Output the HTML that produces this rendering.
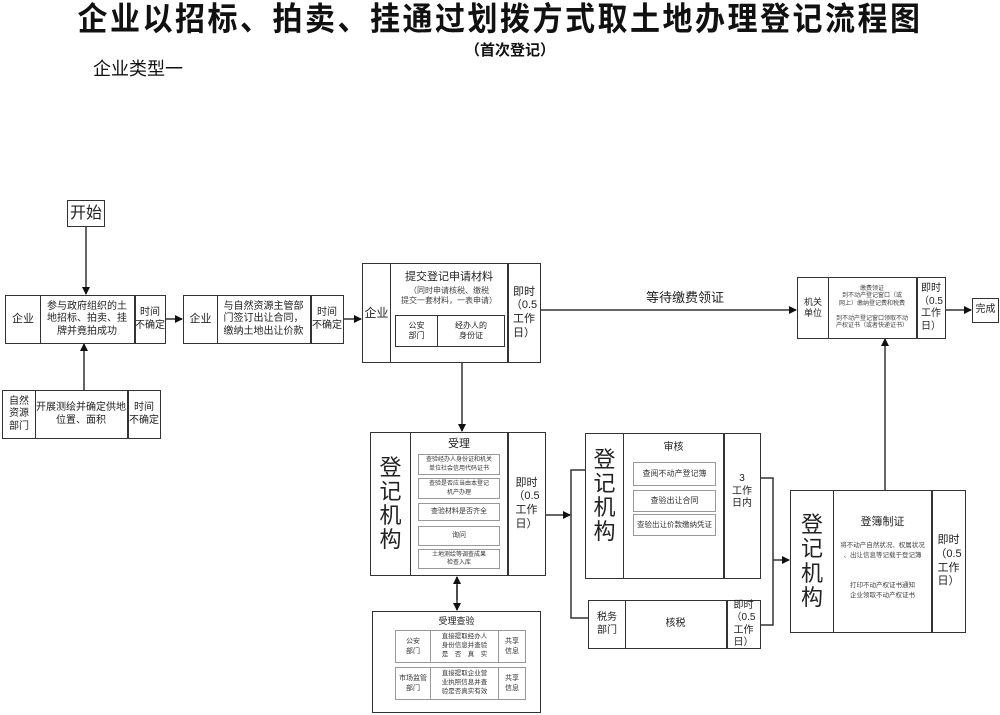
<!DOCTYPE html>
<html><head><meta charset="utf-8">
<style>
*{margin:0;padding:0;box-sizing:border-box}
body{width:1000px;height:715px;background:#fff;position:relative;overflow:hidden;font-family:"Liberation Sans","Noto Sans CJK SC",sans-serif;color:#222}
.b{position:absolute;border:1.5px solid #333;display:flex;align-items:center;justify-content:center;text-align:center;line-height:1.25;white-space:nowrap}
.t{position:absolute;text-align:center;line-height:1.25;white-space:nowrap}
.s{position:absolute;border:1px solid #999;display:flex;align-items:center;justify-content:center;text-align:center;font-size:7px;line-height:1.35;color:#333;white-space:nowrap}
svg{position:absolute;left:0;top:0}
</style></head><body>
<div class="t" style="left:0;width:1000px;top:0px;font-size:30px;font-weight:bold;letter-spacing:2.5px;transform:scaleY(1.08);transform-origin:top;color:#111">企业以招标、拍卖、挂通过划拨方式取土地办理登记流程图</div>
<div class="t" style="left:440px;width:140px;top:42px;font-size:15px;font-weight:bold;color:#111">（首次登记）</div>
<div class="t" style="left:93px;top:58px;font-size:18px;color:#111">企业类型一</div>

<svg width="1000" height="715">
<defs><marker id="a" markerWidth="8" markerHeight="8" refX="7" refY="4" orient="auto" markerUnits="userSpaceOnUse"><path d="M0,0 L8,4 L0,8z" fill="#111"/></marker></defs>
<g stroke="#333" stroke-width="1.5" fill="none">
<line x1="86" y1="226" x2="86" y2="294" marker-end="url(#a)"/>
<line x1="84" y1="390" x2="84" y2="344" marker-end="url(#a)"/>
<line x1="165" y1="319" x2="182" y2="319" marker-end="url(#a)"/>
<line x1="343" y1="319" x2="361" y2="319" marker-end="url(#a)"/>
<line x1="540" y1="310" x2="796" y2="310" marker-end="url(#a)"/>
<line x1="945" y1="310" x2="971" y2="310" marker-end="url(#a)"/>
<line x1="462" y1="362" x2="462" y2="431" marker-end="url(#a)"/>
<line x1="457" y1="585" x2="457" y2="610" marker-end="url(#a)"/>
<line x1="457" y1="600" x2="457" y2="577" marker-end="url(#a)"/>
<line x1="545" y1="515" x2="570" y2="515" marker-end="url(#a)"/>
<polyline points="585,470 571,470 571,618 588,618"/>
<polyline points="760,478 773,478 773,625 760,625"/>
<line x1="773" y1="560" x2="789" y2="560" marker-end="url(#a)"/>
<line x1="885" y1="490" x2="885" y2="339" marker-end="url(#a)"/>
</g>
</svg>

<div class="b" style="left:67px;top:200px;width:38px;height:27px;font-size:16px">开始</div>

<div class="b" style="left:5px;top:295px;width:36px;height:49px;font-size:11px">企业</div>
<div class="b" style="left:39px;top:295px;width:97px;height:49px;font-size:10px;border-left:none">参与政府组织的土<br>地招标、拍卖、挂<br>牌并竟拍成功</div>
<div class="b" style="left:134px;top:295px;width:32px;height:49px;font-size:10px">时间<br>不确定</div>

<div class="b" style="left:183px;top:295px;width:35px;height:49px;font-size:11px">企业</div>
<div class="b" style="left:216px;top:295px;width:96px;height:49px;font-size:10px;border-left:none">与自然资源主管部<br>门签订出让合同，<br>缴纳土地出让价款</div>
<div class="b" style="left:310px;top:295px;width:34px;height:49px;font-size:10px">时间<br>不确定</div>

<div class="b" style="left:2px;top:390px;width:34px;height:49px;font-size:10px">自然<br>资源<br>部门</div>
<div class="b" style="left:34px;top:390px;width:95px;height:49px;font-size:10px;border-left:none">开展测绘并确定供地<br>位置、面积</div>
<div class="b" style="left:127px;top:390px;width:34px;height:49px;font-size:10px">时间<br>不确定</div>

<div class="b" style="left:362px;top:263px;width:29px;height:100px;font-size:12px">企业</div>
<div class="b" style="left:389px;top:263px;width:120px;height:100px;border-left:none"></div>
<div class="t" style="left:390px;top:271px;width:118px;font-size:11px">提交登记申请材料</div>
<div class="t" style="left:390px;top:286px;width:118px;font-size:8px;color:#444">（同时申请核税、缴税<br>提交一套材料，一表申请）</div>
<div class="b" style="left:395px;top:315px;width:43px;height:32px;font-size:8px;border-width:1px">公安<br>部门</div>
<div class="b" style="left:437px;top:315px;width:68px;height:32px;font-size:8px;border-width:1px">经办人的<br>身份证</div>
<div class="b" style="left:507px;top:263px;width:34px;height:100px;font-size:11px">即时<br>（0.5<br>工作<br>日）</div>
<div class="t" style="left:630px;top:290px;width:110px;font-size:13px">等待缴费领证</div>

<div class="b" style="left:797px;top:277px;width:32px;height:62px;font-size:9px">机关<br>单位</div>
<div class="b" style="left:827px;top:277px;width:91px;height:62px;font-size:6px;border-left:none;color:#444">缴费领证<br>到不动产登记窗口（或<br>网上）缴纳登记费和税费<br><br>到不动产登记窗口领取不动<br>产权证书（或者快递证书）</div>
<div class="b" style="left:916px;top:277px;width:30px;height:62px;font-size:10px">即时<br>（0.5<br>工作<br>日）</div>
<div class="b" style="left:972px;top:298px;width:27px;height:25px;font-size:10px">完成</div>

<div class="b" style="left:370px;top:432px;width:41px;height:144px;font-size:22px;line-height:1.1">登<br>记<br>机<br>构</div>
<div class="b" style="left:409px;top:432px;width:100px;height:144px;border-left:none"></div>
<div class="t" style="left:410px;top:438px;width:98px;font-size:11px">受理</div>
<div class="s" style="left:418px;top:454px;width:82px;height:21px;font-size:6px">查验经办人身份证和机关<br>单位社会信用代码证书</div>
<div class="s" style="left:418px;top:478px;width:82px;height:21px;font-size:6px">查验是否应当由本登记<br>机产办理</div>
<div class="s" style="left:418px;top:503px;width:82px;height:18px">查验材料是否齐全</div>
<div class="s" style="left:418px;top:526px;width:82px;height:20px">询问</div>
<div class="s" style="left:418px;top:549px;width:82px;height:20px;font-size:6px">土地测绘等调查成果<br>检查入库</div>
<div class="b" style="left:507px;top:432px;width:39px;height:144px;font-size:11px">即时<br>（0.5<br>工作<br>日）</div>

<div class="b" style="left:372px;top:611px;width:169px;height:102px"></div>
<div class="t" style="left:372px;top:616px;width:169px;font-size:9px">受理查验</div>
<div class="s" style="left:395px;top:630px;width:36px;height:33px;font-size:7px">公安<br>部门</div>
<div class="s" style="left:430px;top:630px;width:69px;height:33px;font-size:6.5px">直接提取经办人<br>身份信息并查验<br>是　否　真　实</div>
<div class="s" style="left:498px;top:630px;width:28px;height:33px;font-size:7px">共享<br>信息</div>
<div class="s" style="left:395px;top:667px;width:36px;height:33px;font-size:7px">市场监管<br>部门</div>
<div class="s" style="left:430px;top:667px;width:69px;height:33px;font-size:6.5px">直接提取企业营<br>业执照信息并查<br>验是否真实有效</div>
<div class="s" style="left:498px;top:667px;width:28px;height:33px;font-size:7px">共享<br>信息</div>

<div class="b" style="left:585px;top:433px;width:39px;height:146px;font-size:22px;line-height:1.1;padding-bottom:20px">登<br>记<br>机<br>构</div>
<div class="b" style="left:622px;top:433px;width:103px;height:146px;border-left:none"></div>
<div class="t" style="left:623px;top:442px;width:101px;font-size:10px">审核</div>
<div class="s" style="left:633px;top:462px;width:83px;height:24px;font-size:8px">查阅不动产登记簿</div>
<div class="s" style="left:633px;top:490px;width:83px;height:22px;font-size:8px">查验出让合同</div>
<div class="s" style="left:633px;top:514px;width:83px;height:22px;font-size:7.5px">查验出让价款缴纳凭证</div>
<div class="b" style="left:723px;top:433px;width:38px;height:146px;font-size:10px;padding-bottom:28px">3<br>工作<br>日内</div>

<div class="b" style="left:588px;top:600px;width:38px;height:49px;font-size:10px">税务<br>部门</div>
<div class="b" style="left:624px;top:600px;width:104px;height:49px;font-size:10px;border-left:none">核税</div>
<div class="b" style="left:726px;top:600px;width:35px;height:49px;font-size:10px">即时<br>（0.5<br>工作<br>日）</div>

<div class="b" style="left:790px;top:490px;width:44px;height:143px;font-size:22px;line-height:1.1">登<br>记<br>机<br>构</div>
<div class="b" style="left:832px;top:490px;width:101px;height:143px;border-left:none"></div>
<div class="t" style="left:833px;top:516px;width:99px;font-size:11px">登簿制证</div>
<div class="t" style="left:833px;top:541px;width:99px;font-size:6.5px;color:#444;line-height:1.5">将不动产自然状况、权属状况<br>、出让信息等记载于登记簿</div>
<div class="t" style="left:833px;top:581px;width:99px;font-size:6.5px;color:#444;line-height:1.5">打印不动产权证书通知<br>企业领取不动产权证书</div>
<div class="b" style="left:931px;top:490px;width:35px;height:143px;font-size:11px">即时<br>（0.5<br>工作<br>日）</div>
</body></html>
